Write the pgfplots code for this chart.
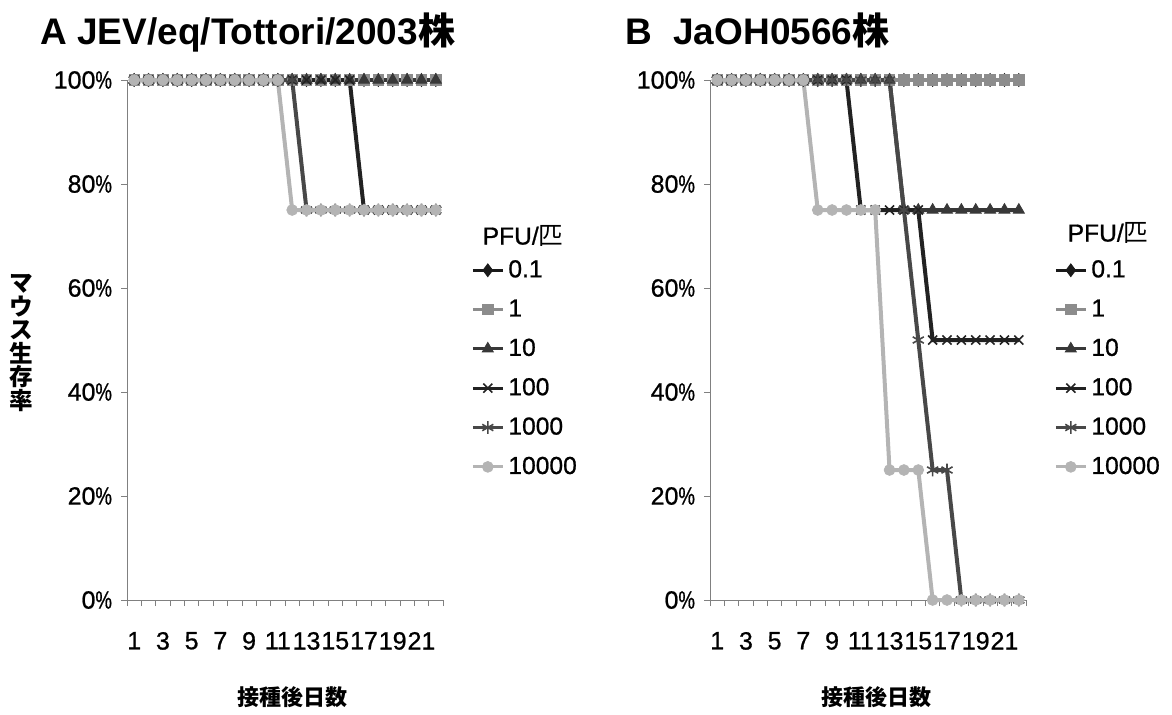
\documentclass[border=0pt]{standalone}
\usepackage{pgfplots}
\pgfplotsset{compat=1.18}
\usepackage{pgfplotstable}
\usepackage{graphicx}
\usepackage{fontspec}
\setmainfont{Liberation Sans}
\newfontfamily\lblfont{Liberation Sans}[FakeBold=0.8]
\newfontfamily\cjk{Noto Sans CJK JP}
\newcommand{\pct}{\scalebox{0.74}[1]{\%}}

% survival fractions per dose (PFU per mouse), day 1..22
\pgfplotstableread{
day s01 s1 s10 s100 s1000 s10000
1  1 1 1 1    1    1
2  1 1 1 1    1    1
3  1 1 1 1    1    1
4  1 1 1 1    1    1
5  1 1 1 1    1    1
6  1 1 1 1    1    1
7  1 1 1 1    1    1
8  1 1 1 1    1    1
9  1 1 1 1    1    1
10 1 1 1 1    1    1
11 1 1 1 1    1    1
12 1 1 1 1    1    0.75
13 1 1 1 1    0.75 0.75
14 1 1 1 1    0.75 0.75
15 1 1 1 1    0.75 0.75
16 1 1 1 1    0.75 0.75
17 1 1 1 0.75 0.75 0.75
18 1 1 1 0.75 0.75 0.75
19 1 1 1 0.75 0.75 0.75
20 1 1 1 0.75 0.75 0.75
21 1 1 1 0.75 0.75 0.75
22 1 1 1 0.75 0.75 0.75
}\tottori

\pgfplotstableread{
day s01 s1 s10 s100 s1000 s10000
1  1 1 1    1    1    1
2  1 1 1    1    1    1
3  1 1 1    1    1    1
4  1 1 1    1    1    1
5  1 1 1    1    1    1
6  1 1 1    1    1    1
7  1 1 1    1    1    1
8  1 1 1    1    1    0.75
9  1 1 1    1    1    0.75
10 1 1 1    1    1    0.75
11 1 1 1    0.75 1    0.75
12 1 1 1    0.75 1    0.75
13 1 1 1    0.75 1    0.25
14 1 1 0.75 0.75 0.75 0.25
15 1 1 0.75 0.75 0.5  0.25
16 1 1 0.75 0.5  0.25 0
17 1 1 0.75 0.5  0.25 0
18 1 1 0.75 0.5  0    0
19 1 1 0.75 0.5  0    0
20 1 1 0.75 0.5  0    0
21 1 1 0.75 0.5  0    0
22 1 1 0.75 0.5  0    0
}\jaoh

\definecolor{c01}{HTML}{1A1A1A}
\definecolor{c1}{HTML}{8C8C8C}
\definecolor{c10}{HTML}{383838}
\definecolor{c100}{HTML}{222222}
\definecolor{c1000}{HTML}{484848}
\definecolor{c10000}{HTML}{B4B4B4}

\pgfplotsset{
  surv/.style={
    scale only axis, width=158pt, height=260pt,
    xmin=0.5, xmax=22.5, ymin=0, ymax=1,
    axis x line*=bottom, axis y line*=left,
    axis line style={draw=gray, line width=0.5pt, -},
    xtick={1,3,5,7,9,11,13,15,17,19,21},
    xticklabels={1,3,5,7,9,11,13,15,17,19,21},
    minor xtick={0.5,1.5,...,22.5},
    ytick={0,0.2,0.4,0.6,0.8,1},
    yticklabels={0\pct,20\pct,40\pct,60\pct,80\pct,100\pct},
    tick align=outside,
    major tick length=3pt, minor tick length=3pt,
    tick style={draw=gray, line width=0.4pt},
    major x tick style={draw=none},
    ticklabel style={font=\lblfont\fontsize{12.5}{14}\selectfont},
    xticklabel style={yshift=-9.5pt},
    yticklabel style={xshift=-1pt},
    clip=false,
    legend style={draw=none, fill=none, at={(axis description cs:1.088,0.662)},
      anchor=north west, font=\lblfont\fontsize{12.3}{14}\selectfont, row sep=5.6pt,
      inner sep=0pt},
    legend cell align=left,
    legend image code/.code={%
      \draw[mark repeat=2, mark phase=2, line width=1.6pt, ##1]
        plot coordinates {(0pt,0pt) (7.5pt,0pt) (15pt,0pt)};},
    every axis plot/.append style={line width=2pt},
  },
  p01/.style={color=c01, mark=diamond*, mark size=3.2pt, mark options={solid, line width=0.4pt}},
  p1/.style={color=c1, mark=square*, mark size=2.6pt, mark options={solid, line width=0.4pt}},
  p10/.style={color=c10, mark=triangle*, mark size=3.2pt, mark options={solid, line width=0.4pt}},
  p100/.style={color=c100, mark=x, mark size=3.2pt, mark options={solid, line width=0.8pt}},
  p1000/.style={color=c1000, mark=asterisk, mark size=3.2pt, mark options={solid, line width=0.8pt}},
  p10000/.style={color=c10000, mark=*, mark size=2.7pt, mark options={solid, line width=0.4pt}},
}

\begin{document}
\begin{tikzpicture}
\path[use as bounding box] (0pt,0pt) rectangle (586pt,-357pt);

% titles
\node[anchor=base west, inner sep=0pt, font=\fontsize{18.5}{20}\selectfont\bfseries]
  at (20pt,-22pt) {A JEV/eq/Tottori/2003{\cjk 株}};
\node[anchor=base west, inner sep=0pt, font=\fontsize{18.5}{20}\selectfont\bfseries]
  at (312.5pt,-22pt) {B};
\node[anchor=base west, inner sep=0pt, font=\fontsize{18.5}{20}\selectfont\bfseries]
  at (336.5pt,-22pt) {JaOH0566{\cjk 株}};

% vertical y label
\node[inner sep=0pt, align=center, font=\cjk\bfseries\fontsize{11.8}{11.8}\selectfont]
  at (10.5pt,-171.5pt) {マ\\ウ\\ス\\生\\存\\率};

% x labels
\node[font=\cjk\bfseries\fontsize{11}{12}\selectfont] at (146pt,-348.5pt) {接種後日数};
\node[font=\cjk\bfseries\fontsize{11}{12}\selectfont] at (438pt,-348.5pt) {接種後日数};

% legend titles
\node[font=\lblfont\fontsize{12.3}{14}\selectfont] at (261.5pt,-118pt) {PFU/{\cjk 匹}};
\node[font=\lblfont\fontsize{12.3}{14}\selectfont] at (554pt,-116.5pt) {PFU/{\cjk 匹}};

\begin{axis}[surv, at={(63.5pt,-300pt)}, anchor=south west]
  \addplot[p01]    table[x=day, y=s01]    {\tottori};
  \addplot[p1]     table[x=day, y=s1]     {\tottori};
  \addplot[p10]    table[x=day, y=s10]    {\tottori};
  \addplot[p100]   table[x=day, y=s100]   {\tottori};
  \addplot[p1000]  table[x=day, y=s1000]  {\tottori};
  \addplot[p10000] table[x=day, y=s10000] {\tottori};
  \legend{0.1,1,10,100,1000,10000}
\end{axis}

\begin{axis}[surv, at={(355pt,-300pt)}, anchor=south west]
  \addplot[p01]    table[x=day, y=s01]    {\jaoh};
  \addplot[p1]     table[x=day, y=s1]     {\jaoh};
  \addplot[p10]    table[x=day, y=s10]    {\jaoh};
  \addplot[p100]   table[x=day, y=s100]   {\jaoh};
  \addplot[p1000]  table[x=day, y=s1000]  {\jaoh};
  \addplot[p10000] table[x=day, y=s10000] {\jaoh};
  \legend{0.1,1,10,100,1000,10000}
\end{axis}
\end{tikzpicture}
\end{document}
